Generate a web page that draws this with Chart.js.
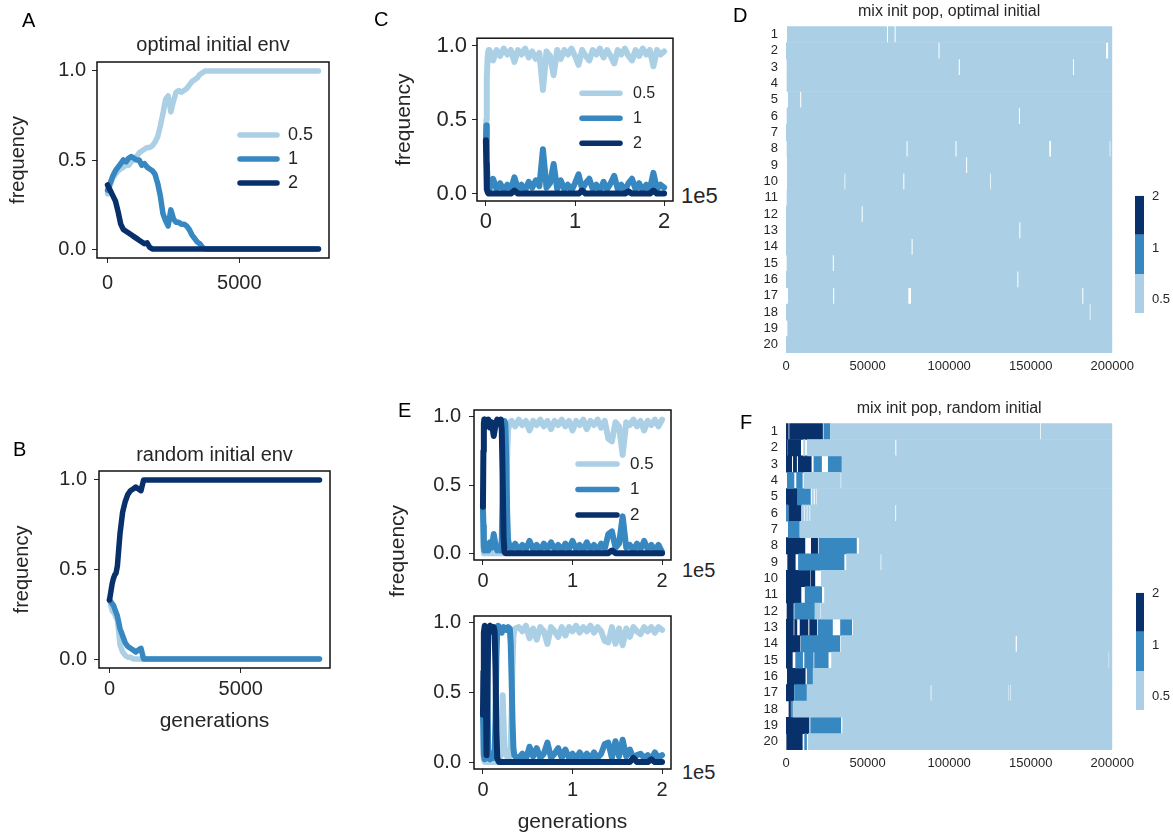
<!DOCTYPE html>
<html>
<head>
<meta charset="utf-8">
<title>Population frequencies</title>
<script src="https://cdn.jsdelivr.net/npm/chart.js@4"></script>
<style>
  body { margin: 0; background: #fff; }
  #fig { position: relative; width: 1173px; height: 836px; overflow: hidden;
         font-family: "Liberation Sans", Arial, sans-serif; color: #262626; background: #fff; }
  #fig canvas { position: absolute; }
  .tag { position: absolute; font-size: 20px; line-height: 20px; color: #000; }
  .note { position: absolute; line-height: 1; white-space: nowrap; }
</style>
</head>
<body>
<div id="fig">
  <canvas id="chartA" width="340" height="280" style="left:0;top:30px"></canvas>
  <canvas id="chartB" width="341" height="298" style="left:0;top:440px"></canvas>
  <canvas id="chartC" width="300" height="220" style="left:380px;top:20px"></canvas>
  <canvas id="chartE1" width="300" height="205" style="left:380px;top:390px"></canvas>
  <canvas id="chartE2" width="300" height="240" style="left:380px;top:596px"></canvas>
  <canvas id="chartD" width="400" height="380" style="left:740px;top:0"></canvas>
  <canvas id="chartF" width="400" height="380" style="left:740px;top:397px"></canvas>
  <canvas id="cbarD" width="43" height="150" style="left:1130px;top:180px"></canvas>
  <canvas id="cbarF" width="42" height="150" style="left:1131px;top:577px"></canvas>

  <div class="tag" style="left:22px;top:10px">A</div>
  <div class="tag" style="left:13px;top:439px">B</div>
  <div class="tag" style="left:374px;top:9px">C</div>
  <div class="tag" style="left:733px;top:5px">D</div>
  <div class="tag" style="left:398px;top:400px">E</div>
  <div class="tag" style="left:740px;top:412px">F</div>

  <div class="note" style="left:681px;top:185px;font-size:22px">1e5</div>
  <div class="note" style="left:682px;top:560px;font-size:20px">1e5</div>
  <div class="note" style="left:682px;top:762px;font-size:20px">1e5</div>
  <div class="note" style="left:396px;top:551px;font-size:21px;transform:translate(-50%,-50%) rotate(-90deg)">frequency</div>
</div>
<script>
const FONT = '"Liberation Sans", Arial, sans-serif';
const INK = '#262626';

// fitness levels shared by every panel
const levelLabels = ['0.5', '1', '2'];
const levelValues = [0.5, 1, 2];
const levelColors = ['#abd0e6', '#3787c0', '#08306b'];

const freqTicks = [0, 0.5, 1];
const shortTicks = [0, 5000];
const longTicks = [0, 100000, 200000];
const heatTicks = [0, 50000, 100000, 150000, 200000];
const cbarTicks = [0.5, 1, 2];
const cbarEdges = [0.418, 0.707, 1.196, 2.022];
const rowLabels = ['1','2','3','4','5','6','7','8','9','10','11','12','13','14','15','16','17','18','19','20'];

// A: optimal initial env
const aGens = [0,100,200,300,400,500,600,700,800,900,1000,1100,1200,1300,1400,1500,1600,1700,1800,1900,
  2000,2100,2200,2300,2400,2500,2600,2700,2800,2900,3000,3100,3200,3300,3400,3500,3600,3700,3800,3900,4000,8000];
const aLow = [.31,.36,.40,.42,.44,.45,.46,.47,.47,.49,.50,.52,.54,.55,.56,.57,.57,.58,.60,.63,
  .69,.76,.84,.86,.77,.83,.88,.89,.88,.89,.90,.92,.94,.95,.96,.98,.99,1,1,1,1,1];
const aMid = [.33,.37,.41,.44,.46,.48,.50,.49,.51,.52,.51,.50,.50,.47,.48,.46,.45,.44,.42,.37,
  .30,.20,.16,.13,.22,.17,.15,.15,.14,.14,.13,.11,.08,.06,.04,.03,.01,0,0,0,0,0];
const aHigh = [.36,.33,.30,.27,.21,.14,.11,.10,.09,.08,.07,.06,.05,.04,.03,.035,.01,0,0,0,
  0,0,0,0,0,0,0,0,0,0,0,0,0,0,0,0,0,0,0,0,0,0];

// B: random initial env
const bGens = [0,100,150,200,250,300,400,500,600,700,800,900,1000,1100,1200,1300,1400,8000];
const bLow = [.33,.27,.26,.25,.23,.22,.08,.04,.02,.01,.01,0,0,0,0,0,0,0];
const bMid = [.33,.31,.30,.28,.26,.24,.17,.13,.09,.07,.06,.05,.04,.05,.06,0,0,0];
const bHigh = [.33,.42,.45,.47,.48,.52,.70,.82,.88,.92,.94,.95,.96,.95,.94,1,1,1];

// C: long run, optimal initial env
const cGens = [0,500,1000,2000,3000,4000,8000,12000,16000,20000,24000,28000,32000,36000,40000,44000,48000,
  52000,56000,60000,64000,68000,72000,76000,80000,84000,88000,92000,96000,100000,104000,108000,112000,
  116000,120000,124000,128000,132000,136000,140000,144000,148000,152000,156000,160000,164000,168000,
  172000,176000,180000,184000,188000,192000,196000,200000];
const cLow = [.30,.50,.78,.93,.97, .97,.90,.97,.93,.98,.94,.97,.89,.97,.94, .98,.92,.96,.91,.95,.70,.96,.93,.80,.97,
  .91,.97,.94,.98,.93,.87,.97,.93,.90,.97, .94,.98,.92,.97,.93,.88,.97,.94,.98,.93, .90,.97,.93,.98,.94,.97,.86,.97,.94,.96];
const cMid = [.34,.46,.20,.07,.03, .03,.10,.03,.07,.02,.06,.03,.11,.03,.06, .02,.08,.04,.09,.05,.30,.04,.07,.20,.03,
  .09,.03,.06,.02,.07,.13,.03,.07,.10,.03, .06,.02,.08,.03,.07,.12,.03,.06,.02,.07, .10,.03,.07,.02,.06,.03,.14,.03,.06,.04];
const cHigh = [.36,.20,.03,.01,0, 0,0,0,0,0,0,0,.02,0,0, 0,0,0,0,0,0,0,0,0,0,
  0,0,0,0,0,0,.02,0,0,0, 0,0,0,0,0,0,0,0,0,.015, 0,0,0,0,0,0,.02,0,0,0];

// E (upper): long run, random initial env
const eTopGens = [0,500,1000,1500,2000,3000,4000,6000,8000,10000,12000,14000,16000,18000,20000,21000,22000,
  23000,24000,25000,26000,27000,28000,30000,
  32000,36000,40000,44000,48000,52000,56000,60000,64000,68000,72000,76000,80000,84000,88000,92000,96000,
  100000,104000,108000,112000,116000,120000,124000,128000,132000,136000,140000,144000,148000,152000,
  156000,160000,164000,168000,172000,176000,180000,184000,188000,192000,196000,200000];
const eTopLow = [.33,.05,0,0,0,0,0,0,0,0,0,0,0,0,0,0,0,0,.02,.05,.30,.70,.90,.96,
  .97,.93,.98,.94,.97,.90,.97,.94,.98,.93,.97,.91,.97,.94,.98,.93,.97,.90,.97,.94,.98,.91,.97,.94,.98,
  .92,.97,.84,.82,.96,.93,.72,.96,.94,.98,.93,.97,.90,.97,.94,.98,.93,.98];
const eTopMid = [.33,.20,.05,.02,.08,.03,.06,.02,.08,.04,.14,.06,.02,.05,.02,.10,.45,.85,.97,.95,.70,.30,.10,.04,
  .03,.07,.02,.06,.03,.09,.03,.06,.02,.07,.03,.08,.03,.06,.02,.07,.03,.09,.03,.06,.02,.08,.03,.06,.02,
  .07,.03,.14,.16,.04,.07,.27,.04,.06,.02,.07,.03,.09,.03,.06,.02,.06,.01];
const eTopHigh = [.34,.75,.95,.98,.92,.97,.94,.98,.92,.96,.86,.94,.98,.95,.98,.90,.55,.12,.01,0,0,0,0,0,
  0,0,0,0,0,0,0,0,0,0,0,0,0,0,0,0,0,0,0,0,0,0,0,0,0,0,0,0,.02,0,0,0,0,0,0,0,0,0,0,0,0,0,0];

// E (lower): second long run, random initial env
const eBotGens = [0,500,1000,2000,3000,4000,5000,6000,8000,10000,12000,13000,14000,15000,16000,17000,18000,
  20000,21000,22000,23000,24000,26000,28000,30000,31000,32000,33000,34000,35000,36000,
  40000,44000,48000,52000,56000,60000,64000,68000,72000,76000,80000,84000,88000,92000,96000,100000,
  104000,108000,112000,116000,120000,124000,128000,132000,136000,140000,144000,148000,152000,156000,
  160000,164000,168000,172000,176000,180000,184000,188000,192000,196000,200000];
const eBotLow = [.33,.10,.02,0,0,0,0,0,0,0,0,0,0,0,0,0,.02,.05,.25,.48,.30,.10,.05,.03,.04,.10,.35,.70,.90,.95,.96,
  .97,.94,.98,.89,.96,.88,.97,.94,.85,.97,.94,.90,.97,.91,.97,.94,.98,.93,.97,.94,
  .98,.93,.97,.94,.87,.86,.97,.85,.96,.84,.96,.90,.97,.94,.92,.97,.94,.97,.93,.97,.95];
const eBotMid = [.33,.25,.05,.02,.30,.93,.50,.03,.02,.06,.03,.05,.30,.75,.96,.98,.97,.94,.93,.95,.97,.96,.95,.97,.96,.85,.60,.30,.10,.05,.04,
  .03,.06,.02,.11,.04,.10,.03,.06,.14,.03,.06,.10,.03,.09,.03,.06,.02,.07,.03,.06,
  .02,.07,.03,.06,.13,.14,.03,.15,.04,.16,.04,.09,.03,.05,.06,.03,.05,.02,.07,.03,.05];
const eBotHigh = [.34,.65,.93,.98,.70,.05,.48,.96,.98,.94,.97,.94,.68,.22,.03,.01,0,0,0,0,0,0,0,0,0,0,0,0,0,0,0,
  0,0,0,0,0,0,0,0,0,0,0,0,0,0,0,0,0,0,0,0,0,0,0,0,0,0,0,0,0,0,0,0,.03,0,0,0,0,.02,0,0,0];

// D: dominant level per replicate, optimal initial env  [start, end, level]
const heatOptimal = [
  [[800,61700,.5],[62700,66400,.5],[67400,200000,.5]],
  [[0,93300,.5],[94300,196000,.5],[197600,200000,.5]],
  [[600,105700,.5],[106700,175700,.5],[176700,200000,.5]],
  [[600,200000,.5]],
  [[1400,8500,.5],[9500,200000,.5]],
  [[600,142600,.5],[143600,200000,.5]],
  [[0,200000,.5]],
  [[600,73700,.5],[74700,103700,.5],[104700,161200,.5],[162600,198200,.5],[199000,200000,.5]],
  [[800,110200,.5],[111200,200000,.5]],
  [[800,35700,.5],[36500,71700,.5],[72700,125000,.5],[125800,200000,.5]],
  [[600,200000,.5]],
  [[0,46200,.5],[47200,200000,.5]],
  [[0,142800,.5],[143800,200000,.5]],
  [[0,76800,.5],[77800,200000,.5]],
  [[600,28500,.5],[29500,200000,.5]],
  [[0,141600,.5],[142600,200000,.5]],
  [[1400,28700,.5],[29700,74800,.5],[76800,181400,.5],[182400,200000,.5]],
  [[0,186000,.5],[186800,200000,.5]],
  [[1000,200000,.5]],
  [[0,200000,.5]]
];

// F: dominant level per replicate, random initial env
const heatRandom = [
  [[0,1400,2],[2200,22400,2],[23200,27000,1],[27300,155500,.5],[156300,200000,.5]],
  [[0,800,2],[1200,9000,2],[10800,11600,.5],[13000,66800,.5],[67800,200000,.5]],
  [[0,3500,2],[4500,6500,2],[7500,15500,2],[17100,21800,1],[25900,34000,1],[34500,200000,.5]],
  [[800,4900,1],[6500,10000,1],[11000,33300,.5],[34000,200000,.5]],
  [[0,7000,2],[7000,15000,1],[16000,16800,.5],[17800,18500,.5],[19200,200000,.5]],
  [[0,1200,1],[1600,9200,2],[10000,10800,.5],[11600,12500,.5],[13300,14200,.5],[15000,66800,.5],[67700,200000,.5]],
  [[1400,8200,1],[8600,200000,.5]],
  [[0,11600,2],[15500,19400,2],[20200,43200,1],[44900,200000,.5]],
  [[1000,5700,2],[7600,35600,1],[37100,57800,.5],[58600,200000,.5]],
  [[0,14700,2],[15300,17700,2],[21600,200000,.5]],
  [[0,9200,2],[11700,21900,1],[23600,200000,.5]],
  [[600,4500,2],[5300,17700,1],[17700,20900,.5],[21500,200000,.5]],
  [[0,4500,2],[5300,6700,2],[8600,13500,2],[14500,18800,2],[19600,28500,1],[33400,40300,1],[41200,200000,.5]],
  [[0,8600,2],[9200,33000,1],[33800,140600,.5],[141700,200000,.5]],
  [[0,3900,2],[5900,10200,1],[11400,16700,1],[17500,25900,1],[27900,197600,.5],[198200,200000,.5]],
  [[800,11800,2],[13000,16300,1],[16700,200000,.5]],
  [[0,4900,2],[5300,12600,1],[13000,88500,.5],[89300,135900,.5],[136500,137300,.5],[137900,200000,.5]],
  [[1800,2800,2],[3300,4000,1],[4500,200000,.5]],
  [[0,14100,2],[15100,33600,1],[34700,200000,.5]],
  [[400,10000,2],[11400,12600,1],[13700,200000,.5]]
];

Chart.defaults.font.family = FONT;
Chart.defaults.color = INK;

// box around the plotting area, like matplotlib spines
const framePlugin = {
  id: 'frame',
  afterDatasetsDraw(chart) {
    const {ctx, chartArea: a} = chart;
    ctx.save();
    ctx.strokeStyle = '#111';
    ctx.lineWidth = 1.5;
    ctx.strokeRect(a.left, a.top, a.right - a.left, a.bottom - a.top);
    ctx.restore();
  }
};

// legend drawn inside the plotting area
const innerLegend = {
  id: 'innerLegend',
  afterDatasetsDraw(chart, args, opts) {
    const {ctx, chartArea: a} = chart;
    ctx.save();
    ctx.font = opts.size + 'px ' + FONT;
    ctx.textBaseline = 'middle';
    ctx.textAlign = 'left';
    ctx.lineCap = 'round';
    ctx.lineWidth = 5.5;
    chart.data.datasets.forEach((ds, i) => {
      const y = a.top + opts.top + i * opts.rowGap;
      const x = a.left + opts.left;
      ctx.strokeStyle = ds.borderColor;
      ctx.beginPath();
      ctx.moveTo(x, y);
      ctx.lineTo(x + opts.lineLen, y);
      ctx.stroke();
      ctx.fillStyle = INK;
      ctx.fillText(ds.label, x + opts.textGap, y);
    });
    ctx.restore();
  }
};

const fixedTicks = list => scale => { scale.ticks = list.map(v => ({value: v})); };
const noGrid = {display: false, drawTicks: false, tickLength: 0};

function linePanel(id, p) {
  return new Chart(document.getElementById(id), {
    type: 'line',
    data: {
      labels: p.gens,
      datasets: p.series.map((vals, i) => ({
        label: levelLabels[i],
        data: vals,
        borderColor: levelColors[i],
        backgroundColor: levelColors[i],
        borderWidth: p.lineWidth,
        pointRadius: 0,
        tension: 0,
        borderCapStyle: 'round',
        borderJoinStyle: 'round',
        order: 3 - i
      }))
    },
    options: {
      responsive: false,
      animation: false,
      layout: {padding: p.pad},
      plugins: {
        legend: {display: false},
        tooltip: {enabled: false},
        title: p.title
          ? {display: true, text: p.title, fullSize: false, color: INK,
             font: {size: 20, weight: 'normal'}, padding: p.titlePad}
          : {display: false},
        innerLegend: p.legend || false
      },
      scales: {
        x: {
          type: 'linear', min: p.xMin, max: p.xMax,
          afterBuildTicks: fixedTicks(p.xTicks),
          afterFit: s => { s.height = p.xHeight; },
          ticks: {font: {size: p.tickSize}, color: INK, padding: p.xPad, maxRotation: 0, callback: p.xFmt},
          grid: {drawOnChartArea: false, tickLength: 5, tickColor: INK},
          border: {display: false},
          title: p.xTitle
            ? {display: true, text: p.xTitle, color: INK, font: {size: 21}, padding: {top: 0, bottom: p.xTitlePad}}
            : {display: false}
        },
        y: {
          type: 'linear', min: -0.05, max: 1.05,
          afterBuildTicks: fixedTicks(freqTicks),
          afterFit: s => { s.width = p.yWidth; },
          ticks: {font: {size: p.tickSize}, color: INK, padding: p.yPad, callback: v => v.toFixed(1)},
          grid: {drawOnChartArea: false, tickLength: 5, tickColor: INK},
          border: {display: false},
          title: p.yTitle
            ? {display: true, text: 'frequency', color: INK, font: {size: p.yTitleSize || 20}, padding: {top: p.yTitlePad, bottom: 0}}
            : {display: false}
        }
      }
    },
    plugins: [framePlugin, innerLegend]
  });
}

function heatPanel(id, rows, title) {
  const datasets = levelValues.map((lv, i) => ({
    label: levelLabels[i],
    data: rows.flatMap((segs, r) => segs
      .filter(s => s[2] === lv)
      .map(s => ({y: rowLabels[r], x: [s[0], s[1]]}))),
    backgroundColor: levelColors[i],
    borderWidth: 0,
    grouped: false,
    barPercentage: 1,
    categoryPercentage: 1,
    inflateAmount: 0.3
  }));
  return new Chart(document.getElementById(id), {
    type: 'bar',
    data: {labels: rowLabels, datasets},
    options: {
      indexAxis: 'y',
      responsive: false,
      animation: false,
      layout: {padding: {right: 27}},
      plugins: {
        legend: {display: false},
        tooltip: {enabled: false},
        title: {display: true, text: title, fullSize: false, color: INK,
                font: {size: 16, weight: 'normal'}, padding: {top: 2, bottom: 5}}
      },
      scales: {
        x: {
          type: 'linear', min: 0, max: 200000,
          afterBuildTicks: fixedTicks(heatTicks),
          afterFit: s => { s.height = 27; },
          ticks: {font: {size: 13}, color: INK, padding: 6, maxRotation: 0, callback: v => String(v)},
          grid: noGrid,
          border: {display: false}
        },
        y: {
          type: 'category',
          afterFit: s => { s.width = 46; },
          ticks: {font: {size: 13}, color: INK, padding: 8, autoSkip: false},
          grid: noGrid,
          border: {display: false}
        }
      }
    }
  });
}

function colorbar(id) {
  return new Chart(document.getElementById(id), {
    type: 'bar',
    data: {
      labels: [''],
      datasets: levelLabels.map((lab, i) => ({
        label: lab,
        data: [[cbarEdges[i], cbarEdges[i + 1]]],
        backgroundColor: levelColors[i],
        borderWidth: 0,
        grouped: false,
        barPercentage: 1,
        categoryPercentage: 1,
        inflateAmount: 0
      }))
    },
    options: {
      responsive: false,
      animation: false,
      layout: {padding: {left: 5, top: 10, bottom: 17}},
      plugins: {legend: {display: false}, tooltip: {enabled: false}},
      scales: {
        x: {display: false},
        y: {
          type: 'logarithmic', position: 'right',
          min: cbarEdges[0], max: cbarEdges[3],
          afterBuildTicks: fixedTicks(cbarTicks),
          afterFit: s => { s.width = 29; },
          ticks: {font: {size: 13}, color: INK, padding: 8, callback: v => String(v)},
          grid: noGrid,
          border: {display: false}
        }
      }
    }
  });
}

const plain = v => String(v);
const perHundredK = v => String(v / 100000);

linePanel('chartA', {
  gens: aGens, series: [aLow, aMid, aHigh], lineWidth: 5.5,
  xMin: -400, xMax: 8400, xTicks: shortTicks, xFmt: plain,
  title: 'optimal initial env', titlePad: {top: 3, bottom: 5},
  pad: {right: 11}, tickSize: 20, xHeight: 52, xPad: 8,
  yWidth: 97, yPad: 6, yTitle: true, yTitlePad: 6,
  legend: {left: 143, top: 73, rowGap: 24, lineLen: 37, textGap: 48, size: 18}
});

linePanel('chartB', {
  gens: bGens, series: [bLow, bMid, bHigh], lineWidth: 5.5,
  xMin: -400, xMax: 8400, xTicks: shortTicks, xFmt: plain,
  title: 'random initial env', titlePad: {top: 3, bottom: 4},
  pad: {right: 11}, tickSize: 20, xHeight: 70, xPad: 4,
  xTitle: 'generations', xTitlePad: 4,
  yWidth: 99, yPad: 7, yTitle: true, yTitlePad: 10
});

linePanel('chartC', {
  gens: cGens, series: [cLow, cMid, cHigh], lineWidth: 6,
  xMin: -10000, xMax: 210000, xTicks: longTicks, xFmt: perHundredK,
  pad: {top: 18, right: 7}, tickSize: 22, xHeight: 39, xPad: 3,
  yWidth: 97, yPad: 5, yTitle: true, yTitleSize: 21, yTitlePad: 12,
  legend: {left: 105, top: 55, rowGap: 25, lineLen: 38, textGap: 51, size: 16}
});

linePanel('chartE1', {
  gens: eTopGens, series: [eTopLow, eTopMid, eTopHigh], lineWidth: 6,
  xMin: -10000, xMax: 210000, xTicks: longTicks, xFmt: perHundredK,
  pad: {top: 8, right: 9}, tickSize: 20, xHeight: 35, xPad: 4,
  yWidth: 94, yPad: 8,
  legend: {left: 104, top: 54, rowGap: 25.5, lineLen: 39, textGap: 52, size: 17}
});

linePanel('chartE2', {
  gens: eBotGens, series: [eBotLow, eBotMid, eBotHigh], lineWidth: 6,
  xMin: -10000, xMax: 210000, xTicks: longTicks, xFmt: perHundredK,
  pad: {top: 10, right: 9}, tickSize: 20, xHeight: 67, xPad: 4.5,
  xTitle: 'generations', xTitlePad: 1.5,
  yWidth: 94, yPad: 8
});

heatPanel('chartD', heatOptimal, 'mix init pop, optimal initial');
heatPanel('chartF', heatRandom, 'mix init pop, random initial');
colorbar('cbarD');
colorbar('cbarF');
</script>
</body>
</html>
